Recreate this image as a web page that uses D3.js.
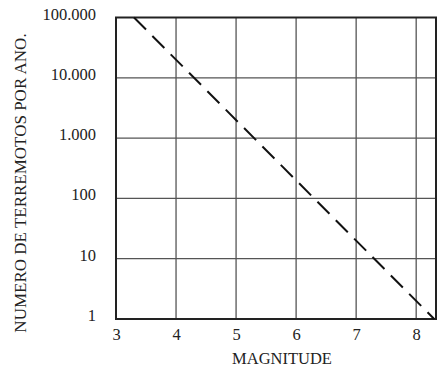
<!DOCTYPE html>
<html>
<head>
<meta charset="utf-8">
<script src="https://cdn.jsdelivr.net/npm/d3@7"></script>
<style>
  body { margin: 0; background: #fff; }
  svg text { font-family: "Liberation Serif", "DejaVu Serif", serif; fill: #222; }
</style>
</head>
<body>
<div id="chart"></div>
<script>
// Gutenberg-Richter: numero de terremotos por ano vs magnitude
const magnitudes = [3.3, 8.3];
const quakesPerYear = [100000, 1];
const xTicks = [3, 4, 5, 6, 7, 8];
const yTicks = [1, 10, 100, 1000, 10000, 100000];
const xTitle = 'MAGNITUDE';
const yTitle = 'NUMERO DE TERREMOTOS POR ANO.';

const width = 438, height = 368;
const plotL = 116, plotR = 436, plotT = 17.5, plotB = 319;

const svg = d3.select('#chart').append('svg')
  .attr('width', width)
  .attr('height', height);

const x = d3.scaleLinear().domain([3, 8.33]).range([plotL, plotR]);
const y = d3.scaleLog().domain([1, 100000]).range([plotB, plotT]);

// separador de milhar com ponto
const fmt = d3.formatLocale({ decimal: ',', thousands: '.', grouping: [3], currency: ['', ''] }).format(',');

// grade
const grid = svg.append('g');
grid.selectAll('line.v')
  .data(xTicks.slice(1))
  .enter().append('line')
  .attr('class', 'v')
  .attr('x1', d => x(d)).attr('x2', d => x(d))
  .attr('y1', plotT).attr('y2', plotB)
  .attr('stroke', '#555').attr('stroke-width', 1.3);

grid.selectAll('line.h')
  .data(yTicks.slice(1, -1))
  .enter().append('line')
  .attr('class', 'h')
  .attr('x1', plotL).attr('x2', plotR)
  .attr('y1', d => y(d)).attr('y2', d => y(d))
  .attr('stroke', '#555').attr('stroke-width', 1.3);

// borda
svg.append('rect')
  .attr('x', plotL).attr('y', plotT)
  .attr('width', plotR - plotL).attr('height', plotB - plotT)
  .attr('fill', 'none')
  .attr('stroke', '#222')
  .attr('stroke-width', 2);

// eixos (só rótulos)
const xAxis = svg.append('g')
  .attr('transform', `translate(0,${plotB})`)
  .call(d3.axisBottom(x).tickValues(xTicks).tickSize(0).tickPadding(20.5).tickFormat(d3.format('d')));
xAxis.select('.domain').remove();
xAxis.selectAll('text')
  .attr('font-size', 16.5)
  .attr('dy', 0);

const yAxis = svg.append('g')
  .attr('transform', `translate(${plotL},0)`)
  .call(d3.axisLeft(y).tickValues(yTicks).tickSize(0).tickPadding(20).tickFormat(fmt));
yAxis.select('.domain').remove();
yAxis.selectAll('text')
  .attr('font-size', 16.5)
  .attr('dy', 1.5);

// linha tracejada
const pts = magnitudes.map((m, i) => [m, quakesPerYear[i]]);
svg.append('path')
  .datum(pts)
  .attr('fill', 'none')
  .attr('stroke', '#111')
  .attr('stroke-width', 2)
  .attr('stroke-dasharray', '17,9')
  .attr('d', d3.line().x(d => x(d[0])).y(d => y(d[1])));

// títulos
svg.append('text')
  .attr('x', 282)
  .attr('y', 364)
  .attr('text-anchor', 'middle')
  .attr('font-size', 16.5)
  .text(xTitle);

svg.append('text')
  .attr('transform', 'translate(26,183) rotate(-90)')
  .attr('text-anchor', 'middle')
  .attr('font-size', 17)
  .text(yTitle);
</script>
</body>
</html>
